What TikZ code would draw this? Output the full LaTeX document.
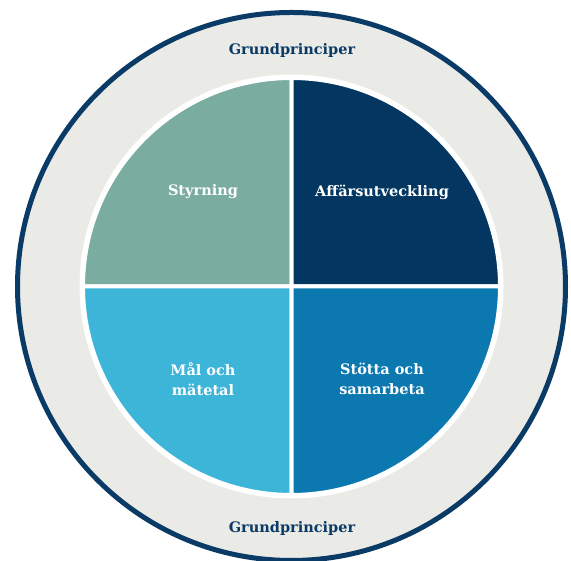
\documentclass[tikz,border=0pt]{standalone}
\usepackage{fontspec}
\setmainfont{DejaVu Serif}
\definecolor{ringfill}{HTML}{EAEAE6}
\definecolor{ringline}{HTML}{0A3A66}
\definecolor{qone}{HTML}{7AADA0}
\definecolor{qtwo}{HTML}{033762}
\definecolor{qthree}{HTML}{3DB5D9}
\definecolor{qfour}{HTML}{0C78B0}
\tikzset{
  quad/.style={draw=white, line width=4pt, line join=miter},
  lbl/.style={font=\bfseries\fontsize{14.5}{20}\selectfont, text=white, align=center},
  ringlbl/.style={font=\bfseries\fontsize{14.5}{18}\selectfont, text=ringline}
}
\begin{document}
\begin{tikzpicture}[x=1pt, y=1pt]
\useasboundingbox (0,0) rectangle (571,561);
\coordinate (c) at (291.5,274.5);
\fill[ringfill] (c) circle (274);
\draw[ringline, line width=5pt] (c) circle (274);
\fill[white] (c) circle (212);
\fill[qone, quad] (c) -- ++(-208.5,0) arc[start angle=180, end angle=90, radius=208.5] -- cycle;
\fill[qtwo, quad] (c) -- ++(0,208.5) arc[start angle=90, end angle=0, radius=208.5] -- cycle;
\fill[qthree, quad] (c) -- ++(0,-208.5) arc[start angle=270, end angle=180, radius=208.5] -- cycle;
\fill[qfour, quad] (c) -- ++(208.5,0) arc[start angle=0, end angle=-90, radius=208.5] -- cycle;
\node[ringlbl] (top) at (292,510) {Grundprinciper};
\node[ringlbl] (bot) at (292,32) {Grundprinciper};
\node[lbl] (styr) at (203,369) {Styrning};
\node[lbl] (aff) at (382,369) {Affärsutveckling};
\node[lbl] (mal) at (203,182) {Mål och\\mätetal};
\node[lbl] (sto) at (382,182) {Stötta och\\samarbeta};
\end{tikzpicture}
\end{document}
